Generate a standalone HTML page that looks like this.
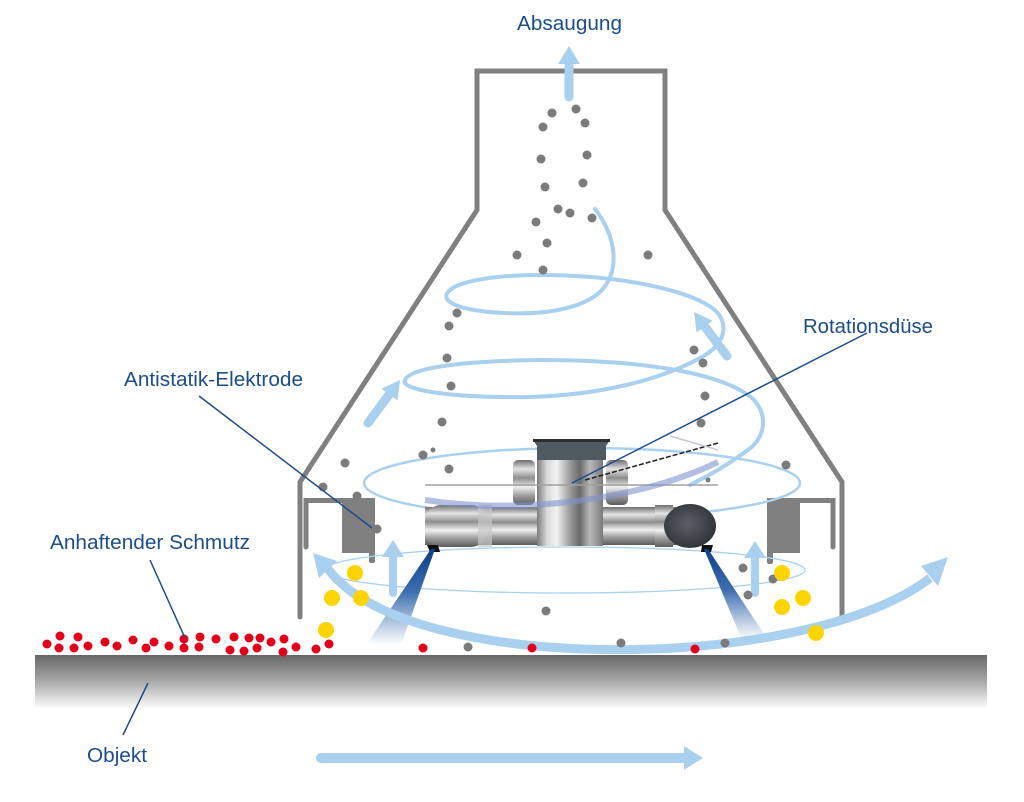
<!DOCTYPE html>
<html><head><meta charset="utf-8">
<style>
html,body{margin:0;padding:0;background:#fff;}
svg{display:block;}
text{font-family:"Liberation Sans",sans-serif;fill:#1b4d8c;font-size:20px;}
</style></head>
<body>
<svg width="1024" height="802" viewBox="0 0 1024 802" xmlns="http://www.w3.org/2000/svg">
<defs>
<linearGradient id="ground" x1="0" y1="0" x2="0" y2="1">
<stop offset="0" stop-color="#676767"/>
<stop offset="0.45" stop-color="#a3a3a3"/>
<stop offset="1" stop-color="#ffffff"/>
</linearGradient>
<linearGradient id="metH" x1="0" y1="0" x2="1" y2="0">
<stop offset="0" stop-color="#7c7c7c"/>
<stop offset="0.15" stop-color="#d9d9d9"/>
<stop offset="0.3" stop-color="#f2f2f2"/>
<stop offset="0.5" stop-color="#9a9a9a"/>
<stop offset="0.65" stop-color="#6a6a6a"/>
<stop offset="0.8" stop-color="#b8b8b8"/>
<stop offset="1" stop-color="#7a7a7a"/>
</linearGradient>
<linearGradient id="metV" x1="0" y1="0" x2="0" y2="1">
<stop offset="0" stop-color="#6e6e6e"/>
<stop offset="0.2" stop-color="#e4e4e4"/>
<stop offset="0.4" stop-color="#8e8e8e"/>
<stop offset="0.6" stop-color="#f0f0f0"/>
<stop offset="0.8" stop-color="#9b9b9b"/>
<stop offset="1" stop-color="#5c5c5c"/>
</linearGradient>
<linearGradient id="spray" x1="0" y1="0" x2="0" y2="1">
<stop offset="0" stop-color="#0d3f8c"/>
<stop offset="0.45" stop-color="#3d6fb0"/>
<stop offset="1" stop-color="#ffffff" stop-opacity="0.9"/>
</linearGradient>
<radialGradient id="ball" cx="0.45" cy="0.45" r="0.6">
<stop offset="0" stop-color="#5a6066"/>
<stop offset="1" stop-color="#2e3236"/>
</radialGradient>
</defs>

<!-- ground -->
<rect x="35" y="655" width="952" height="54" fill="url(#ground)"/>

<!-- housing -->
<path d="M300,617 L300,482 L477,210 L477,71 L665,71 L665,210 L842,482 L842,617" fill="none" stroke="#808080" stroke-width="5" stroke-linejoin="miter" stroke-linecap="round"/>
<!-- left bracket -->
<path d="M306,547 L306,500.5 L345,500.5" fill="none" stroke="#808080" stroke-width="5" stroke-linecap="round"/>
<rect x="342" y="498" width="33" height="55" fill="#808080"/>
<rect x="369" y="550" width="6" height="13" rx="2" fill="#808080"/>
<!-- right bracket -->
<path d="M797,500.5 L833,500.5 L833,547" fill="none" stroke="#808080" stroke-width="5" stroke-linecap="round"/>
<rect x="767" y="498" width="33" height="55" fill="#808080"/>
<rect x="767" y="550" width="6" height="14" rx="2" fill="#808080"/>

<!-- spiral rings -->
<g fill="none" stroke="#a9d1ef" stroke-linecap="round">
<path stroke-width="4" d="M595,209 C615,235 622,270 600,292 C580,310 540,315 505,313 C460,311 440,302 448,292 C458,280 500,275 540,275 C620,275 690,290 715,310 C730,325 725,345 700,358 C660,380 600,395 530,397 C450,398 400,390 405,380 C410,368 460,361 540,360 C640,360 720,372 752,398 C770,415 765,440 745,452 C725,467 700,480 690,485"/>
<ellipse cx="582" cy="483" rx="218" ry="35" stroke-width="2.5"/>
<ellipse cx="565" cy="570" rx="240" ry="23" stroke-width="1.3"/>
</g>

<!-- nozzle -->
<g>
<rect x="425" y="507" width="265" height="38" fill="url(#metV)"/>
<rect x="425" y="505" width="62" height="42" rx="16" fill="url(#metV)"/>
<rect x="478" y="505" width="14" height="42" fill="#c8c8c8" opacity="0.7"/>
<rect x="655" y="505" width="18" height="42" fill="url(#metV)"/>
<ellipse cx="690" cy="526" rx="26" ry="22" fill="url(#ball)"/>
<rect x="537" y="458" width="66" height="88" fill="url(#metH)"/>
<rect x="513" y="460" width="22" height="45" rx="5" fill="url(#metV)"/>
<rect x="606" y="460" width="22" height="45" rx="5" fill="url(#metV)"/>
<path d="M533,440 L610,440 L606,446 L606,460 L537,460 L537,446 Z" fill="#505a61"/>
<rect x="533" y="439" width="77" height="3" fill="#2a2f33"/>
<line x1="425" y1="485" x2="718" y2="485" stroke="#a0a0a0" stroke-width="1.5"/>
<path d="M425,500 C520,515 640,500 718,462" fill="none" stroke="#7f93cf" stroke-width="6" opacity="0.6"/>
<line x1="585" y1="480" x2="718" y2="443" stroke="#222" stroke-width="1.5" stroke-dasharray="5 2"/>
<line x1="670" y1="436" x2="718" y2="450" stroke="#c9c9d6" stroke-width="1.5"/>
<path d="M427,545 L438,545 L440,552 L430,552 Z" fill="#111"/>
<path d="M702,545 L713,545 L711,552 L701,552 Z" fill="#111"/>
</g>

<!-- spray cones -->
<polygon points="431,549 435,549 401,645 366,645" fill="url(#spray)"/>
<polygon points="704,549 708,549 768,640 742,640" fill="url(#spray)"/>

<!-- arrows -->
<g fill="#a9d1ef" stroke="#a9d1ef">
<line x1="569" y1="97" x2="569" y2="62" stroke-width="9" stroke-linecap="round"/>
<polygon points="558,64 580,64 569,46" stroke="none"/>
<line x1="368" y1="423" x2="391" y2="392" stroke-width="9" stroke-linecap="round"/>
<polygon points="400,380 397.5,400.5 381.3,388.7" stroke="none"/>
<line x1="727" y1="356" x2="702" y2="323" stroke-width="9" stroke-linecap="round"/>
<polygon points="694,312 712.7,320.7 696.5,332.5" stroke="none"/>
<line x1="393" y1="593" x2="393" y2="555" stroke-width="8" stroke-linecap="round"/>
<polygon points="382,557 404,557 393,540" stroke="none"/>
<line x1="755" y1="593" x2="755" y2="556" stroke-width="8" stroke-linecap="round"/>
<polygon points="744,558 766,558 755,541" stroke="none"/>
<path d="M328,569 C410,678 810,672 930,578" fill="none" stroke-width="9"/>
<polygon points="313,553 337,561 319,578" stroke="none"/>
<polygon points="948,557 938,586 921,566" stroke="none"/>
<line x1="321" y1="758" x2="688" y2="758" stroke-width="10" stroke-linecap="round"/>
<polygon points="684,746 703,758 684,770" stroke="none"/>
</g>

<!-- gray particles -->
<g fill="#7b7b7b">
<circle cx="552" cy="113" r="4.5"/><circle cx="576" cy="109" r="4.5"/><circle cx="543" cy="127" r="4.5"/><circle cx="585" cy="123" r="4.5"/>
<circle cx="541" cy="159" r="4.5"/><circle cx="587" cy="155" r="4.5"/><circle cx="545" cy="187" r="4.5"/><circle cx="583" cy="183" r="4.5"/>
<circle cx="558" cy="209" r="4.5"/><circle cx="570" cy="213" r="4.5"/><circle cx="592" cy="218" r="4.5"/><circle cx="536" cy="222" r="4.5"/>
<circle cx="547" cy="243" r="4.5"/><circle cx="517" cy="255" r="4.5"/><circle cx="648" cy="255" r="4.5"/><circle cx="543" cy="270" r="4.5"/>
<circle cx="457" cy="313" r="4.5"/><circle cx="449" cy="326" r="4.5"/><circle cx="447" cy="358" r="4.5"/><circle cx="451" cy="386" r="4.5"/>
<circle cx="442" cy="422" r="4.5"/><circle cx="423" cy="455" r="4.5"/><circle cx="433" cy="450" r="2.5"/><circle cx="449" cy="469" r="4.5"/>
<circle cx="345" cy="463" r="4.5"/><circle cx="323" cy="487" r="4.5"/><circle cx="357" cy="496" r="4.5"/><circle cx="377" cy="529" r="4.5"/>
<circle cx="694" cy="350" r="4.5"/><circle cx="703" cy="363" r="4.5"/><circle cx="705" cy="396" r="4.5"/><circle cx="701" cy="423" r="4.5"/>
<circle cx="786" cy="465" r="4.5"/><circle cx="708" cy="480" r="2.5"/>
<circle cx="743" cy="568" r="4.5"/><circle cx="773" cy="579" r="4.5"/><circle cx="748" cy="595" r="4.5"/>
<circle cx="546" cy="611" r="4.5"/><circle cx="468" cy="647" r="4.5"/><circle cx="621" cy="643" r="4.5"/><circle cx="725" cy="643" r="4.5"/>
</g>

<!-- yellow particles -->
<g fill="#fcd500">
<circle cx="355" cy="573" r="8"/><circle cx="332" cy="598" r="8"/><circle cx="361" cy="598" r="8"/><circle cx="326" cy="630" r="8"/>
<circle cx="782" cy="573" r="8"/><circle cx="803" cy="598" r="8"/><circle cx="782" cy="607" r="8"/><circle cx="816" cy="633" r="8"/>
</g>

<!-- red particles -->
<g fill="#e2001a">
<circle cx="47" cy="644" r="4.5"/><circle cx="60" cy="636" r="4.5"/><circle cx="59" cy="648" r="4.5"/><circle cx="78" cy="637" r="4.5"/>
<circle cx="74" cy="648" r="4.5"/><circle cx="88" cy="646" r="4.5"/><circle cx="105" cy="642" r="4.5"/><circle cx="117" cy="646" r="4.5"/>
<circle cx="133" cy="640" r="4.5"/><circle cx="146" cy="648" r="4.5"/><circle cx="154" cy="642" r="4.5"/><circle cx="169" cy="646" r="4.5"/>
<circle cx="184" cy="639" r="4.5"/><circle cx="184" cy="648" r="4.5"/><circle cx="200" cy="637" r="4.5"/><circle cx="199" cy="647" r="4.5"/>
<circle cx="216" cy="639" r="4.5"/><circle cx="234" cy="637" r="4.5"/><circle cx="230" cy="650" r="4.5"/><circle cx="244" cy="651" r="4.5"/>
<circle cx="249" cy="638" r="4.5"/><circle cx="260" cy="638" r="4.5"/><circle cx="257" cy="648" r="4.5"/><circle cx="271" cy="642" r="4.5"/>
<circle cx="284" cy="639" r="4.5"/><circle cx="283" cy="652" r="4.5"/><circle cx="296" cy="647" r="4.5"/><circle cx="316" cy="649" r="4.5"/>
<circle cx="329" cy="644" r="4.5"/><circle cx="423" cy="648" r="4.5"/><circle cx="532" cy="648" r="4.5"/><circle cx="695" cy="649" r="4.5"/>
</g>

<!-- leader lines -->
<g stroke="#1b4d8c" stroke-width="1.5" fill="none">
<line x1="199" y1="396" x2="372" y2="528"/>
<line x1="867" y1="333" x2="572" y2="483"/>
<line x1="150" y1="560" x2="185" y2="638"/>
<line x1="148" y1="683" x2="123" y2="735"/>
</g>

<!-- labels -->
<text x="517" y="30" textLength="105" lengthAdjust="spacingAndGlyphs">Absaugung</text>
<text x="803" y="333" textLength="130" lengthAdjust="spacingAndGlyphs">Rotationsdüse</text>
<text x="124" y="386" textLength="179" lengthAdjust="spacingAndGlyphs">Antistatik-Elektrode</text>
<text x="50" y="549" textLength="200" lengthAdjust="spacingAndGlyphs">Anhaftender Schmutz</text>
<text x="87" y="762" textLength="60" lengthAdjust="spacingAndGlyphs">Objekt</text>
</svg>
</body></html>
